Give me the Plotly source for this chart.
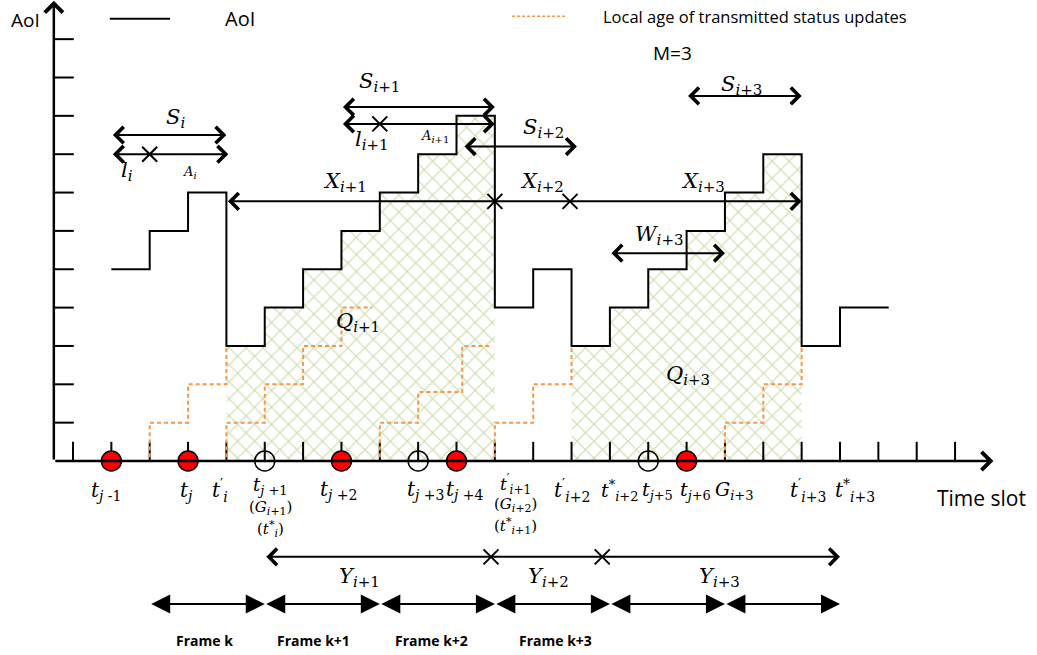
import plotly.graph_objects as go

# ---------------- data ----------------
# AoI staircase (slot, level) drawn with horizontal-then-vertical steps
aoi_x = [1, 2, 3, 4, 5, 6, 7, 8, 9, 10, 11, 12, 13, 14, 15, 16, 17, 18, 19, 20, 21.27]
aoi_y = [5, 6, 7, 3, 4, 5, 6, 7, 8, 9, 4, 5, 3, 4, 5, 6, 7, 8, 3, 4, 4]

# hatched areas Q_{i+1}, Q_{i+3}
q1_x = [4, 5, 6, 7, 8, 9, 10, 11]
q1_y = [3, 4, 5, 6, 7, 8, 9, 9]
q3_x = [13, 14, 15, 16, 17, 18, 19]
q3_y = [3, 4, 5, 6, 7, 8, 8]

# local age of transmitted status updates (orange dashed staircases)
loc1_x = [1, 2, 3, 4];            loc1_y = [0, 1, 2, 3]
loc2_x = [3, 4, 5, 6, 7, 7.8];    loc2_y = [0, 1, 2, 3, 4, 4]
loc3_x = [7, 8, 9, 10.15, 10.85]; loc3_y = [0, 1, 1.8, 3, 3]
loc4_x = [10, 11, 12, 13];        loc4_y = [0, 1, 2, 3]
loc5_x = [16, 17, 18, 19];        loc5_y = [0, 1, 2, 3]

# generated (red) and not-transmitted (open) updates on the time axis
red_slots = [1, 3, 7, 10, 16]
open_slots = [5, 9, 15]

x_ticks = list(range(0, 24))
y_ticks = list(range(1, 12))

# double-headed interval arrows: start, end, level
iv_x0 = [1, 1, 7, 7, 10.17, 16, 14, 4, 5]
iv_x1 = [4, 4.05, 11, 11, 13.14, 19, 17, 19, 20]
iv_y = [8.5, 8.0, 9.23, 8.79, 8.2, 9.52, 5.42, 6.77, -2.5]

# cross marks on interval arrows
cross_x = [2, 8, 11, 12.96, 10.9, 13.8]
cross_y = [8.0, 8.79, 6.77, 6.77, -2.5, -2.5]

# frame boundaries and labels
frame_bounds = [2, 5, 8, 11, 14, 17, 20]
frame_level = -3.73
frame_labels = ["Frame k", "Frame k+1", "Frame k+2", "Frame k+3"]
frame_label_x = [3.44, 6.28, 9.34, 12.57]


def m(base, sub="", sup="", main=21, subsz=15, pre="", post=""):
    s = pre + "<i>" + base + "</i>"
    if sup:
        s += '<sup><span style="font-size:%dpx">%s</span></sup>' % (subsz, sup)
    if sub:
        s += '<sub><span style="font-size:%dpx">%s</span></sub>' % (subsz, sub)
    return s + post, main


I = "<i>i</i>"
J = "<i>j</i>"
# math labels: (text, size), x, y
math_labels = [
    (m("S", I), 2.66, 8.94),
    (m("l", I), 1.41, 7.54),
    (m("A", I, main=13, subsz=10), 3.05, 7.51),
    (m("S", I + "+1"), 8.0, 9.86),
    (m("l", I + "+1"), 7.8, 8.37),
    (m("A", I + "+1", main=13, subsz=10), 9.44, 8.45),
    (m("S", I + "+2"), 12.26, 8.68),
    (m("X", I + "+1"), 7.09, 7.27),
    (m("X", I + "+2"), 12.23, 7.27),
    (m("X", I + "+3"), 16.43, 7.27),
    (m("S", I + "+3"), 17.44, 9.8),
    (m("W", I + "+3"), 15.3, 5.89),
    (m("Q", I + "+1"), 7.43, 3.62),
    (m("Q", I + "+3"), 16.04, 2.24),
    (m("Y", I + "+1"), 7.48, -3.05),
    (m("Y", I + "+2"), 12.39, -3.05),
    (m("Y", I + "+3"), 16.87, -3.05),
    (m("t", J + " -1", main=20, subsz=14), 0.86, -0.78),
    (m("t", J, main=20, subsz=14), 2.96, -0.78),
    (m("t", I, "′", main=20, subsz=14), 3.84, -0.76),
    (m("t", J + " +1", main=18, subsz=13), 5.16, -0.66),
    (m("G", I + "+1", main=15, subsz=11, pre="(", post=")"), 5.16, -1.22),
    (m("t", I, "*", main=15, subsz=11, pre="(", post=")"), 5.16, -1.76),
    (m("t", J + " +2", main=20, subsz=14), 6.92, -0.76),
    (m("t", J + " +3", main=20, subsz=14), 9.2, -0.76),
    (m("t", J + " +4", main=20, subsz=14), 10.22, -0.76),
    (m("t", I + "+1", "′", main=17, subsz=12), 11.55, -0.6),
    (m("G", I + "+2", main=15, subsz=11, pre="(", post=")"), 11.55, -1.16),
    (m("t", I + "+1", "*", main=15, subsz=11, pre="(", post=")"), 11.55, -1.7),
    (m("t", I + "+2", "′", main=20, subsz=14), 13.01, -0.76),
    (m("t", I + "+2", "*", main=19, subsz=13), 14.24, -0.76),
    (m("t", J + "+5", main=19, subsz=13), 15.23, -0.76),
    (m("t", J + "+6", main=19, subsz=13), 16.22, -0.76),
    (m("G", I + "+3", main=19, subsz=13), 17.26, -0.76),
    (m("t", I + "+3", "′", main=20, subsz=14), 19.17, -0.76),
    (m("t", I + "+3", "*", main=20, subsz=14), 20.4, -0.76),
]

# ---------------- figure ----------------
PX = 38.35
X0 = 73
Y0 = 461
W, H = 1037, 655
xr = [-X0 / PX, (W - X0) / PX]
yr = [(Y0 - H) / PX, Y0 / PX]

GREEN = "#8db348"
ORANGE = "#f79646"
MATH = "DejaVu Serif"
SANS = "Open Sans"

fig = go.Figure()

for qx, qy in [(q1_x, q1_y), (q3_x, q3_y)]:
    fig.add_trace(go.Scatter(
        x=qx, y=qy, mode="lines", line=dict(width=0, shape="hv"),
        fill="tozeroy", fillcolor="rgba(255,255,255,0)",
        fillpattern=dict(shape="x", fgcolor=GREEN, bgcolor="rgba(255,255,255,0)",
                         size=12, solidity=0.16),
        hoverinfo="skip", showlegend=False))

# axis ticks
tx, ty = [], []
for t in x_ticks:
    tx += [t, t, None]
    ty += [0, 0.5, None]
for t in y_ticks:
    tx += [-0.5, 0.02, None]
    ty += [t, t, None]
fig.add_trace(go.Scatter(x=tx, y=ty, mode="lines", line=dict(color="black", width=2),
                         hoverinfo="skip", showlegend=False))

# circles on the time axis
fig.add_trace(go.Scatter(x=red_slots, y=[0] * len(red_slots), mode="markers",
                         marker=dict(size=20, color="#ff0000", line=dict(color="black", width=1.5)),
                         hoverinfo="skip", showlegend=False))
fig.add_trace(go.Scatter(x=open_slots, y=[0] * len(open_slots), mode="markers",
                         marker=dict(size=20, color="rgba(0,0,0,0)", line=dict(color="black", width=1.5)),
                         hoverinfo="skip", showlegend=False))

for lx, ly in [(loc1_x, loc1_y), (loc2_x, loc2_y), (loc3_x, loc3_y), (loc4_x, loc4_y), (loc5_x, loc5_y)]:
    fig.add_trace(go.Scatter(x=lx, y=ly, mode="lines",
                             line=dict(color=ORANGE, width=2, dash="4px,3px", shape="hv"),
                             hoverinfo="skip", showlegend=False))

fig.add_trace(go.Scatter(x=aoi_x, y=aoi_y, mode="lines",
                         line=dict(color="black", width=2, shape="hv"),
                         hoverinfo="skip", showlegend=False))

# cross marks
fig.add_trace(go.Scatter(x=cross_x, y=cross_y, mode="markers",
                         marker=dict(symbol="x-thin", size=15, line=dict(color="black", width=2)),
                         hoverinfo="skip", showlegend=False))

# legend samples
fig.add_trace(go.Scatter(x=[0.96, 2.53], y=[11.53, 11.53], mode="lines",
                         line=dict(color="black", width=2), hoverinfo="skip", showlegend=False))
fig.add_trace(go.Scatter(x=[11.45, 12.83], y=[11.6, 11.6], mode="lines",
                         line=dict(color=ORANGE, width=1.5, dash="3px,2px"),
                         hoverinfo="skip", showlegend=False))

ann = []


def arrow(x0, y0, x1, y1, head=4, both=True, width=2, size=1.4):
    ann.append(dict(x=x1, y=y1, ax=x0, ay=y0, xref="x", yref="y", axref="x", ayref="y",
                    text="", showarrow=True, arrowhead=head, startarrowhead=head,
                    arrowside="end+start" if both else "end", arrowwidth=width,
                    arrowsize=size, startarrowsize=size, arrowcolor="black",
                    standoff=0, startstandoff=0))


# main axes
arrow(-0.5, 0, -0.5, 12.0, head=4, both=False, width=2.5, size=1.4)
arrow(-0.5, 0, 24.0, 0, head=4, both=False, width=2.5, size=1.4)

for a, b, lv in zip(iv_x0, iv_x1, iv_y):
    arrow(a, lv, b, lv, head=4, both=True, width=2, size=1.6)

for a, b in zip(frame_bounds[:-1], frame_bounds[1:]):
    arrow(a, frame_level, b, frame_level, head=2, both=True, width=2, size=1.9)

for (txt, s), x, y in math_labels:
    ann.append(dict(x=x, y=y, xref="x", yref="y", text=txt, showarrow=False,
                    font=dict(family=MATH, size=s, color="black")))

for lab, x in zip(frame_labels, frame_label_x):
    ann.append(dict(x=x, y=-4.67, xref="x", yref="y",
                    text="<b>" + lab + "</b>", showarrow=False,
                    font=dict(family=SANS, size=14, color="black")))

plain = [
    ("AoI", -1.25, 11.5, 19),
    ("AoI", 4.35, 11.55, 20),
    ("Local age of transmitted status updates", 17.78, 11.6, 16.5),
    ("M=3", 15.62, 10.64, 19),
    ("Time slot", 23.7, -0.96, 21),
]
for txt, x, y, s in plain:
    ann.append(dict(x=x, y=y, xref="x", yref="y", text=txt, showarrow=False,
                    font=dict(family=SANS, size=s, color="black")))

fig.update_layout(
    width=W, height=H, autosize=False,
    margin=dict(l=0, r=0, t=0, b=0),
    paper_bgcolor="white", plot_bgcolor="white",
    xaxis=dict(range=xr, visible=False, fixedrange=True),
    yaxis=dict(range=yr, visible=False, fixedrange=True),
    annotations=ann, showlegend=False,
)

fig.write_html("out.html", config={"displayModeBar": False},
               post_script="document.body.style.margin='0';")
